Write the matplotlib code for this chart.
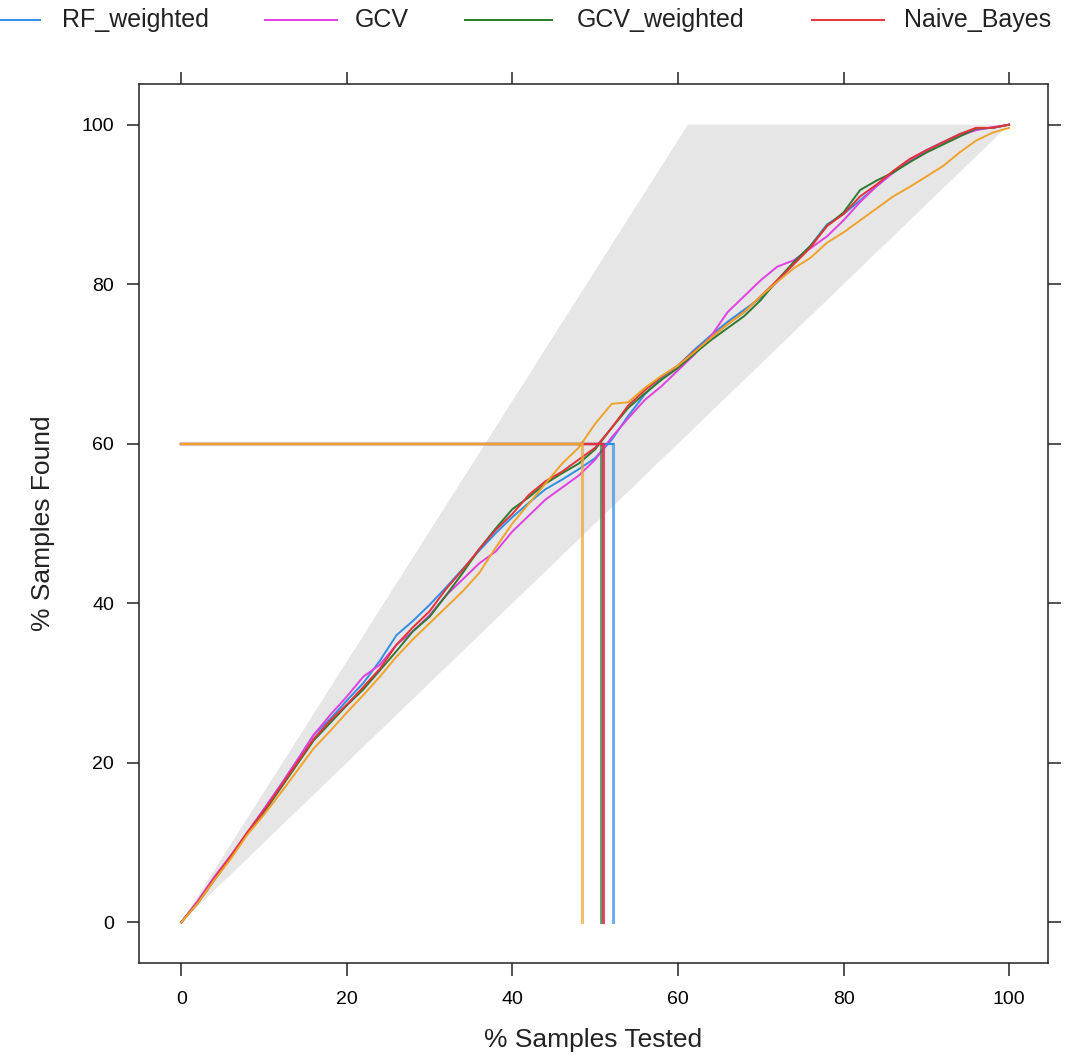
import matplotlib
matplotlib.use("Agg")
import matplotlib.pyplot as plt
from matplotlib.lines import Line2D

plt.rcParams['font.family'] = ['Liberation Sans', 'DejaVu Sans']

# % samples tested (x grid of the lift curves)
tested = list(range(0, 101, 2))

# % samples found
rf_weighted = [0, 2.6, 5.6, 8.2, 11.2, 14.2, 17.2, 20.3, 23.5, 25.5, 27.8, 30, 32.8, 36, 37.8, 39.8,
               42, 44.3, 46.6, 48.8, 50.8, 52.6, 54.3, 55.5, 56.8, 58.2, 60.5, 63.5, 66.2, 68.2, 69.8,
               71.8, 73.6, 75.3, 76.8, 78.3, 80.3, 82.6, 84.8, 87.5, 88.8, 90.5, 92.3, 94, 95.5, 96.8,
               97.8, 98.8, 99.5, 99.6, 100]
gcv = [0, 2.7, 5.7, 8.4, 11.3, 14.2, 17.2, 20.3, 23.5, 26, 28.3, 30.8, 32.3, 34.8, 36.5, 38.5,
       41, 43, 45, 46.5, 49, 51, 53, 54.5, 56, 58, 60.8, 63.2, 65.5, 67.2, 69.2,
       71.2, 73.5, 76.5, 78.5, 80.5, 82.2, 83, 84.5, 86, 88, 90.3, 92.3, 94, 95.5, 96.7,
       97.7, 98.6, 99.3, 99.7, 100]
gcv_weighted = [0, 2.4, 5.3, 8.1, 11.2, 13.8, 16.8, 19.8, 22.8, 25, 27.2, 29.2, 31.6, 34, 36.5, 38.3,
                41, 43.8, 46.8, 49.4, 51.8, 53.3, 55, 56.3, 57.5, 59.3, 62, 64.5, 66.3, 68, 69.5,
                71.3, 73, 74.5, 76, 78, 80.5, 82.8, 84.8, 87.3, 89, 91.8, 93, 94, 95.3, 96.5,
                97.5, 98.5, 99.5, 99.6, 100]
naive_bayes = [0, 2.5, 5.5, 8.3, 11.3, 14, 17, 20, 23, 25.3, 27.3, 29.5, 31.8, 34.8, 37, 39,
               41.8, 44.2, 46.8, 49.2, 51.2, 53.6, 55.3, 56.5, 58, 59.5, 62, 64.8, 66.7, 68.4, 69.8,
               71.6, 73.3, 75, 76.5, 78.5, 80.5, 82.5, 84.6, 87.3, 88.8, 91, 92.5, 94.2, 95.7, 96.8,
               97.8, 98.8, 99.6, 99.6, 100]
model5 = [0, 2.4, 5.3, 8, 11, 13.5, 16.2, 19, 21.8, 24, 26.3, 28.5, 30.8, 33.3, 35.5, 37.5,
          39.5, 41.5, 43.8, 47, 50, 52.5, 55, 57.5, 59.5, 62.5, 65, 65.2, 67, 68.5, 69.8,
          71.5, 73.3, 75, 76.5, 78.5, 80.3, 82, 83.3, 85.2, 86.5, 88, 89.5, 91, 92.2, 93.5,
          94.8, 96.5, 98, 99, 99.6]

# % tested needed to find 60% of samples
cut_value = 60
cut_tested = [52.2, 50.9, 50.7, 51.0, 48.4]

# shaded region between random and perfect model
perfect_x = [0, 61.2, 100]
perfect_y = [0, 100, 100]

names = ['RF_weighted', 'GCV', 'GCV_weighted', 'Naive_Bayes', '']
series = [rf_weighted, gcv, gcv_weighted, naive_bayes, model5]
colors = ['#2f8fe8', '#e23fe2', '#2e7a2e', '#e5323a', '#f0a22a']

fig = plt.figure(figsize=(10.74, 10.57), dpi=100)
ax = fig.add_axes([139 / 1074, 1 - 963 / 1057, (1048 - 139) / 1074, (963 - 84) / 1057])

ax.fill(perfect_x, perfect_y, color='#e6e6e6', lw=0, zorder=1)

for ys, c in zip(series, colors):
    ax.plot(tested, ys, color=c, lw=1.4, zorder=3)

# reference lines at the 60% cut
for xc, c in zip(cut_tested, colors):
    ax.plot([0, xc], [cut_value, cut_value], color=c, lw=1.6, zorder=4)
    ax.plot([xc, xc], [0, cut_value], color=c, lw=2.2, alpha=0.7, zorder=4)

ax.set_xlim(-5.1, 104.7)
ax.set_ylim(-5.1, 105.1)
ax.set_xticks([0, 20, 40, 60, 80, 100])
ax.set_yticks([0, 20, 40, 60, 80, 100])

for s in ax.spines.values():
    s.set_color('#222222')
    s.set_linewidth(1.1)
ax.tick_params(direction='out', length=9, width=1.1, color='#222222', labelsize=14,
               top=True, right=True, labeltop=False, labelright=False)
ax.tick_params(axis='x', pad=11)
ax.tick_params(axis='y', pad=9)

ax.set_xlabel('% Samples Tested', fontsize=19, color='#222222')
ax.set_ylabel('% Samples Found', fontsize=19, color='#222222')
ax.xaxis.set_label_coords(0.5, (963 - 1040) / (963 - 84))
ax.xaxis.label.set_va('center')
ax.yaxis.set_label_coords((43 - 139) / (1048 - 139), 0.5)
ax.yaxis.label.set_va('center')

# legend across the top (left-most entry partly cut off)
line_pos = [(-32, 40), (265, 337), (465, 552), (812, 884)]
text_x = [62, 355, 577, 904]
for (x0, x1), tx, name, c in zip(line_pos, text_x, names[:4], colors[:4]):
    fig.add_artist(Line2D([x0 / 1074, x1 / 1074], [1 - 20 / 1057, 1 - 20 / 1057],
                          transform=fig.transFigure, color=c, lw=1.4))
    fig.text(tx / 1074, 1 - 20 / 1057, name, fontsize=18, color='#222222',
             ha='left', va='center')

fig.savefig('out.png', dpi=100)
